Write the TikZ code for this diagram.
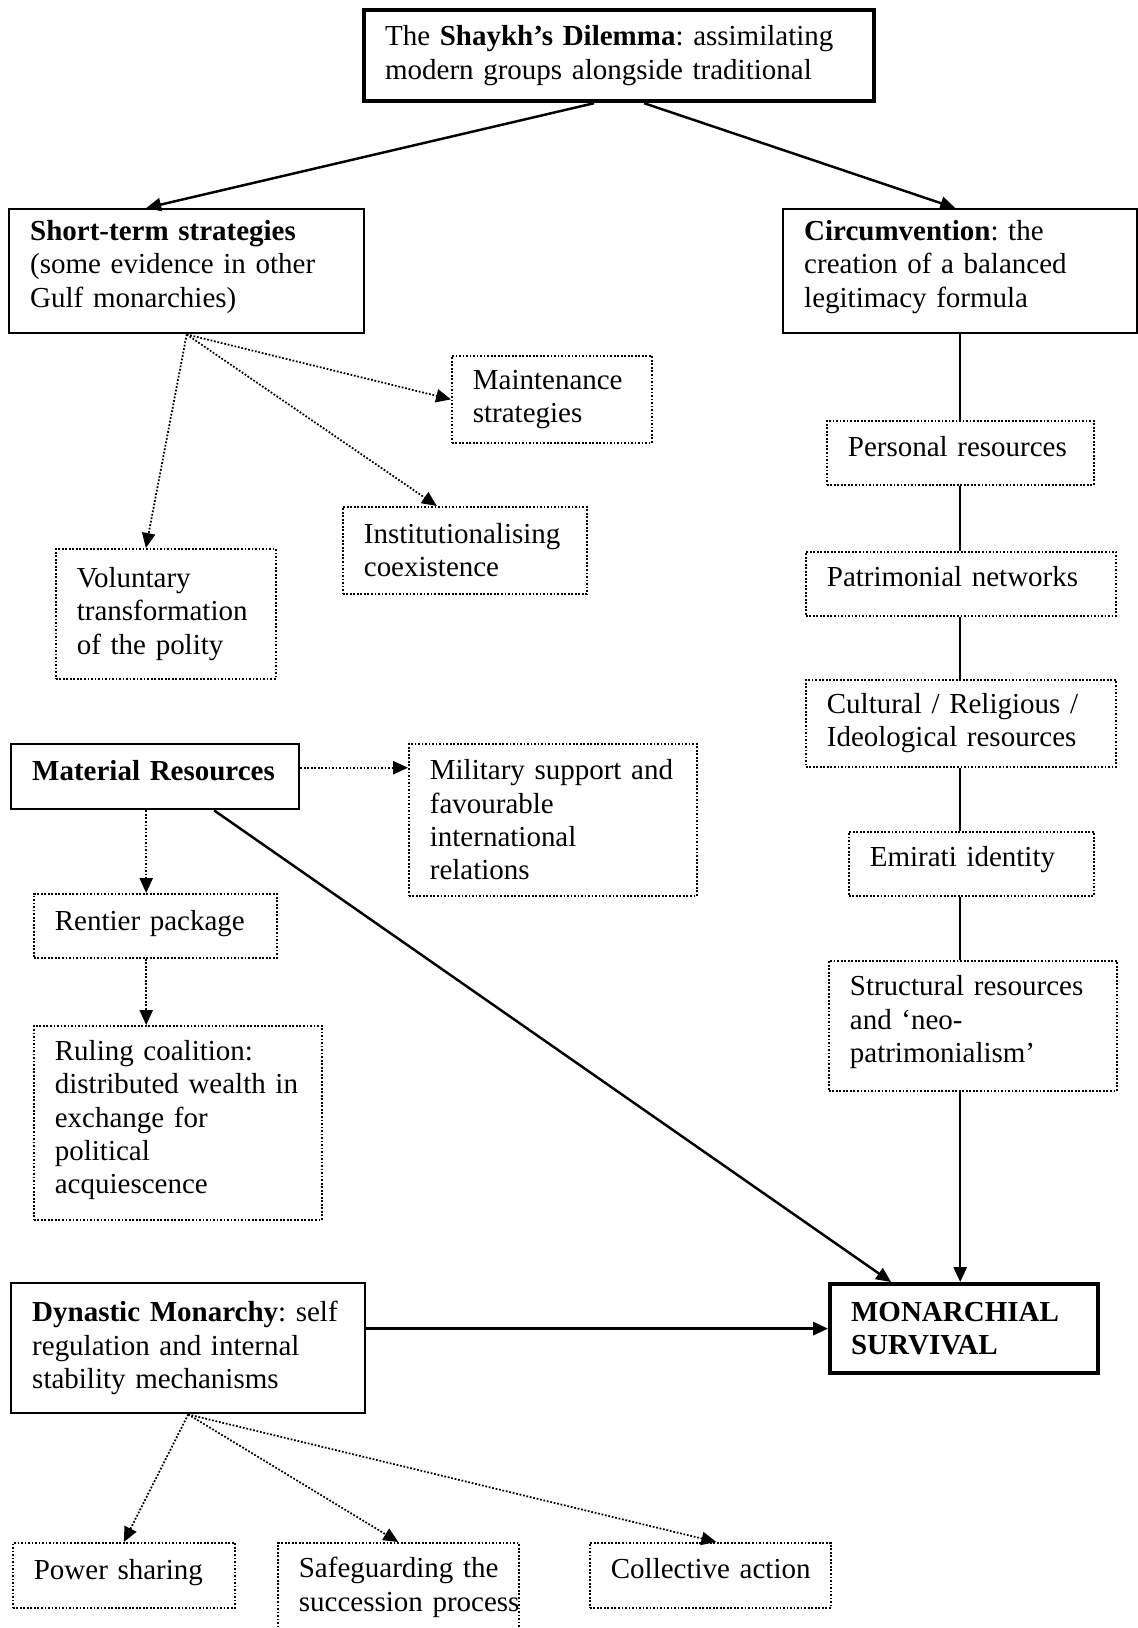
\documentclass[tikz,border=0pt]{standalone}
\usepackage{fontspec}
\setmainfont{Liberation Serif}
\frenchspacing
\hyphenpenalty=10000
\usetikzlibrary{arrows.meta}

\tikzset{
  box/.style={anchor=north west, align=left, inner xsep=0.42cm, inner ysep=0pt,
    font=\fontsize{16.5}{19}\selectfont},
  thickbox/.style={box, draw, line width=2.4pt},
  solidbox/.style={box, draw, line width=1.4pt},
  dotbox/.style={box, draw, densely dotted, line width=1pt},
  lift/.style={execute at end node={\par\kern#1}},
  link/.style={line width=1.4pt},
  arrowlink/.style={link, -{Triangle[length=8.5pt,width=7.5pt]}},
  dotlink/.style={densely dotted, line width=1pt, -{Triangle[length=8.5pt,width=7.5pt]}}
}

\begin{document}
\begin{tikzpicture}[x=0.02cm,y=-0.02cm]
\useasboundingbox (0,0) rectangle (1138,1628);

% top of the chart
\node[thickbox, text width=9.36cm, minimum height=1.82cm] (dilemma) at (362,8)
  {The \textbf{Shaykh’s Dilemma}: assimilating\\modern groups alongside traditional};

% left branch
\node[solidbox, lift=5pt, text width=6.26cm, minimum height=2.48cm] (shortterm) at (8,208)
  {\textbf{Short-term strategies}\\(some evidence in other\\Gulf monarchies)};
\node[dotbox, text width=3.16cm, minimum height=1.74cm] (maint) at (451,355)
  {Maintenance\\strategies};
\node[dotbox, text width=4.04cm, minimum height=1.74cm] (instit) at (342,506)
  {Institutionalising\\coexistence};
\node[dotbox, text width=3.56cm, minimum height=2.6cm] (volun) at (55,548)
  {Voluntary\\transformation\\of the polity};

% right branch
\node[solidbox, lift=5pt, text width=6.24cm, minimum height=2.48cm] (circum) at (782,208)
  {\textbf{Circumvention}: the\\creation of a balanced\\legitimacy formula};
\node[dotbox, lift=7pt, text width=4.5cm, minimum height=1.28cm] (personal) at (826,420)
  {Personal resources};
\node[dotbox, lift=8pt, text width=5.36cm, minimum height=1.28cm] (patrim) at (805,551)
  {Patrimonial networks};
\node[dotbox, text width=5.36cm, minimum height=1.74cm] (cultural) at (805,679)
  {Cultural / Religious /\\Ideological resources};
\node[dotbox, lift=5pt, text width=4.06cm, minimum height=1.28cm] (emirati) at (848,831)
  {Emirati identity};
\node[dotbox, lift=4pt, text width=4.92cm, minimum height=2.6cm] (struct) at (828,960)
  {Structural resources\\and ‘neo-\\patrimonialism’};

% material resources
\node[solidbox, lift=7pt, text width=4.92cm, minimum height=1.3cm] (material) at (10,743)
  {\textbf{Material~Resources}};
\node[dotbox, text width=4.92cm, minimum height=3.04cm] (military) at (408,743)
  {Military~support~and\\favourable\\international\\relations};
\node[dotbox, lift=3pt, text width=4.02cm, minimum height=1.28cm] (rentier) at (33,893)
  {Rentier package};
\node[dotbox, lift=3pt, text width=4.92cm, minimum height=3.88cm] (ruling) at (33,1025)
  {Ruling coalition:\\distributed~wealth~in\\exchange for\\political\\acquiescence};

% dynastic monarchy and the outcome
\node[solidbox, text width=6.24cm, minimum height=2.6cm] (dynastic) at (10,1282)
  {\textbf{Dynastic~Monarchy}:~self\\regulation and internal\\stability mechanisms};
\node[thickbox, text width=4.52cm, minimum height=1.78cm] (survival) at (828,1282)
  {\textbf{MONARCHIAL}\\\textbf{SURVIVAL}};
\node[dotbox, lift=3pt, text width=3.6cm, minimum height=1.3cm] (power) at (12,1542)
  {Power sharing};
\node[dotbox, text width=3.98cm, minimum height=1.78cm] (safeg) at (277,1542)
  {\mbox{Safeguarding the}\\\mbox{succession process}};
\node[dotbox, lift=8pt, text width=3.98cm, minimum height=1.3cm] (collective) at (589,1542)
  {\mbox{Collective action}};

% connectors
\draw[arrowlink] ([xshift=-0.5cm]dilemma.south) -- ([xshift=-0.81cm]shortterm.north);
\draw[arrowlink] ([xshift=0.5cm]dilemma.south) -- ([xshift=-0.1cm]circum.north);

\draw[dotlink] (shortterm.south) -- (maint.west);
\draw[dotlink] (shortterm.south) -- ([xshift=-0.56cm]instit.north);
\draw[dotlink] (shortterm.south) -- ([xshift=-0.4cm]volun.north);

\draw[link] (circum.south) -- (circum.south |- personal.north);
\draw[link] (circum.south |- personal.south) -- (circum.south |- patrim.north);
\draw[link] (circum.south |- patrim.south) -- (circum.south |- cultural.north);
\draw[link] (circum.south |- cultural.south) -- (circum.south |- emirati.north);
\draw[link] (circum.south |- emirati.south) -- (circum.south |- struct.north);
\draw[arrowlink] (circum.south |- struct.south) -- (circum.south |- survival.north);

\draw[dotlink] ([yshift=0.18cm]material.east) -- ([yshift=0.18cm]material.east -| military.west);
\draw[dotlink] ([xshift=-0.18cm]material.south) -- ([xshift=-0.18cm]material.south |- rentier.north);
\draw[dotlink] ([xshift=-0.18cm]material.south |- rentier.south) -- ([xshift=-0.18cm]material.south |- ruling.north);
\draw[arrowlink] ([xshift=1.18cm]material.south) -- ([xshift=-1.46cm]survival.north);

\draw[arrowlink] (dynastic.east |- survival.west) -- (survival.west);
\draw[dotlink] (dynastic.south) -- (power.north);
\draw[dotlink] (dynastic.south) -- (safeg.north);
\draw[dotlink] (dynastic.south) -- ([xshift=0.12cm]collective.north);
\end{tikzpicture}
\end{document}
